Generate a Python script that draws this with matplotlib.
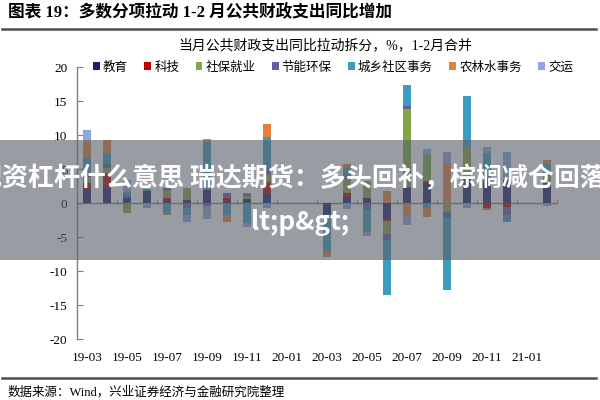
import matplotlib
matplotlib.use('Agg')
import matplotlib.pyplot as plt
import numpy as np
from matplotlib.patches import Rectangle
from matplotlib.lines import Line2D

plt.rcParams['font.family'] = ['Liberation Serif', 'Noto Sans CJK SC']
plt.rcParams['axes.unicode_minus'] = False

# months, 1-2 merged (Jan slots left empty)
months = ['19-03', '19-04', '19-05', '19-06', '19-07', '19-08', '19-09', '19-10',
          '19-11', '19-12', '20-01', '20-02', '20-03', '20-04', '20-05', '20-06',
          '20-07', '20-08', '20-09', '20-10', '20-11', '20-12', '21-01', '21-02']

edu = [2.0, 2.2, 0.7, 1.7, 0.3, 0.4, 1.9, 0.3, 0.6, 1.3, 0, 0,
       -2.0, 0.9, 0.7, -2.3, 2.2, 2.9, 0, 3.4, 3.3, 3.4, 0, 2.9]
tech = [1.0, 2.2, 0, 0, 0.4, 0, 0, 0.5, 0, 1.8, 0, 0,
        0, 0.6, 0, -0.3, 0.1, 0.4, 0, 0.1, -0.8, -0.6, 0, 0.1]
social = [0.8, 0.8, -1.4, 0, 1.2, 1.8, 0, 0, 0.4, 1.0, 0, 0,
          0, 2.0, 2.5, -1.9, 11.5, 3.7, -1.3, 4.7, 0, 0, 0, 1.0]
env = [0.7, 0.5, 0.5, 0, 0.3, -0.7, -0.4, 0.7, 0.3, 1.0, 0, 0,
       0, 0.5, -1.0, -1.0, 0.4, 0, -0.9, 0, 0.5, -1.2, 0, 0.3]
urban = [2.1, 1.6, 0.4, 0.4, -1.5, -1.1, 7.0, -1.8, -2.9, 4.6, 0, 0,
         -5.1, 1.2, -3.2, -8.0, 3.2, -0.7, -10.6, 7.5, 3.5, -1.0, 0, 1.5]
agri = [2.4, 2.0, 0, 0, -0.3, 0, 0.5, -1.0, 0.2, 1.9, 0, 0,
        -0.9, 0.6, 0, 1.7, -1.7, -1.3, 5.9, 0, -0.2, 0, 0, 0.5]
transport = [1.7, 0, 1.8, -0.8, 0, -1.0, -1.9, 0, -0.6, -0.7, 0, 0,
             0, -0.9, -0.65, 0, -1.6, 1.0, 1.6, -0.7, 0.9, 4.1, 0, -0.4]

names = ['教育', '科技', '社保就业', '节能环保', '城乡社区事务', '农林水事务', '交运']
series = [edu, tech, social, env, urban, agri, transport]
colors = ['#1F1F70', '#C00000', '#84A448', '#6A5A9E', '#3C9CBD', '#E6803A', '#8EA6D8']

fig = plt.figure(figsize=(6, 4), dpi=100)
ax = fig.add_axes([77 / 600, 1 - 339 / 400, 480 / 600, 272 / 400])

x = np.arange(len(months))
pos_bottom = np.zeros(len(months))
neg_bottom = np.zeros(len(months))
for vals, color, name in zip(series, colors, names):
    v = np.array(vals, dtype=float)
    bottom = np.where(v >= 0, pos_bottom, neg_bottom)
    ax.bar(x, v, width=0.42, bottom=bottom, color=color, label=name, zorder=3)
    pos_bottom += np.where(v > 0, v, 0)
    neg_bottom += np.where(v < 0, v, 0)

ax.set_xlim(-0.5, len(months) - 0.5)
ax.set_ylim(-20, 20)

# axes styling
for s in ['top', 'right']:
    ax.spines[s].set_visible(False)
ax.spines['bottom'].set_position(('data', 0))
for s in ['left', 'bottom']:
    ax.spines[s].set_color('#808080')
    ax.spines[s].set_linewidth(1.0)

ax.set_yticks(np.arange(-20, 21, 5))
ax.set_yticklabels([str(v) for v in range(-20, 21, 5)])
ax.tick_params(axis='y', direction='in', length=4, color='#808080', labelsize=9.5, pad=7)

ax.set_xticks(x[::2])
ax.set_xticklabels(months[::2])
ax.set_xticks(np.arange(-0.5, len(months), 2), minor=True)
ax.tick_params(axis='x', which='major', length=0, labelsize=9.5, pad=107)
ax.tick_params(axis='x', which='minor', direction='in', length=3, color='#808080')

ax.legend(loc='center left', bbox_to_anchor=(93 / 600, 1 - 67.5 / 400),
          bbox_transform=fig.transFigure, ncol=7, frameon=False, fontsize=9,
          handlelength=0.55, handleheight=0.55, handletextpad=0.25,
          columnspacing=1.3, borderpad=0, borderaxespad=0)

# titles, rules, source
fig.text(8 / 600, 1 - 13 / 400, '图表 19：多数分项拉动 1-2 月公共财政支出同比增加',
         fontsize=12, fontweight='bold', va='center', ha='left')
fig.add_artist(Line2D([0.003, 0.993], [1 - 29 / 400] * 2, transform=fig.transFigure,
                      color='#4d4d4d', lw=1.8))
fig.text(325 / 600, 1 - 45 / 400, '当月公共财政支出同比拉动拆分，%，1-2月合并',
         fontsize=10, va='center', ha='center')
fig.add_artist(Line2D([0.003, 0.993], [1 - 378 / 400] * 2, transform=fig.transFigure,
                      color='#4d4d4d', lw=1.8))
fig.text(8 / 600, 1 - 392 / 400, '数据来源：Wind，兴业证券经济与金融研究院整理',
         fontsize=9, va='center', ha='left')

# grey overlay banner
fig.add_artist(Rectangle((0, 1 - 260 / 400), 1, 120 / 400, transform=fig.transFigure,
                         facecolor='#5A616B', edgecolor='none', alpha=0.62, zorder=10))
fig.text(-24 / 600, 1 - 179 / 400, '配资杠杆什么意思 瑞达期货：多头回补，棕榈减仓回落&',
         fontsize=18.7, color='white', fontweight='bold', family=['Noto Sans CJK SC'],
         va='center', ha='left', zorder=11)
fig.text(0.5, 1 - 222 / 400, 'lt;p&gt;', fontsize=18.7, color='white', fontweight='bold',
         family=['Noto Sans CJK SC'], va='center', ha='center', zorder=11)

fig.savefig('out.png', dpi=100)
